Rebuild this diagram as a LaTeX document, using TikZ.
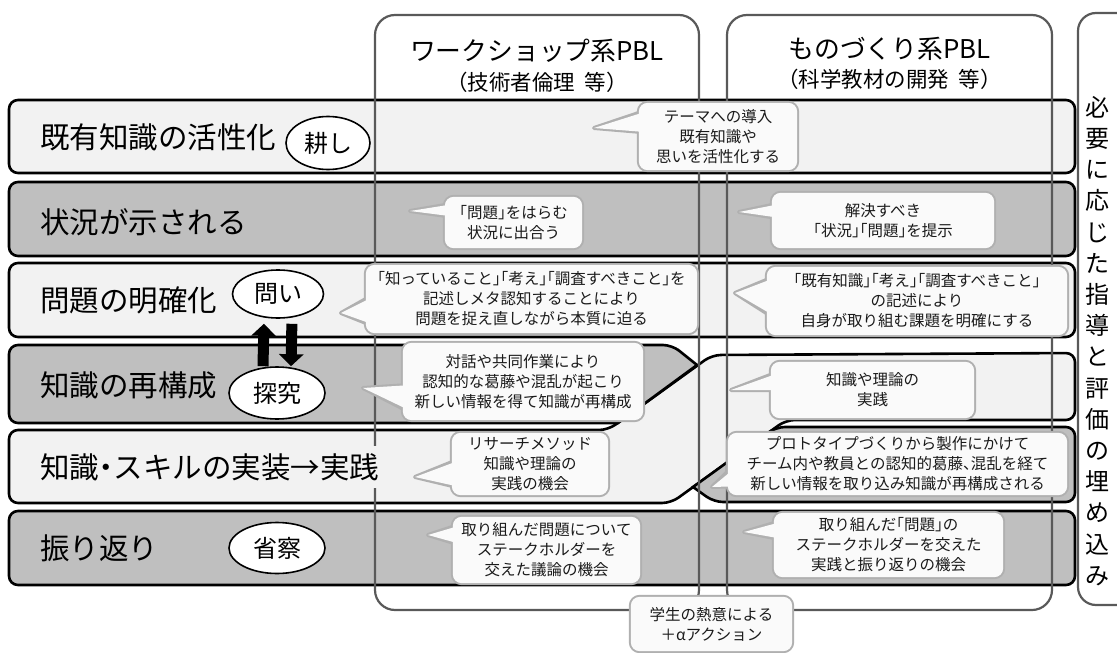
\documentclass[tikz,border=0pt]{standalone}
\usepackage{fontspec}
\setmainfont{Noto Sans CJK JP}
\newfontfamily\calloutfont[RawFeature=+halt]{Noto Sans CJK JP}
\usetikzlibrary{shapes.geometric,arrows.meta,calc}
\pgfdeclarelayer{rowsL}
\pgfdeclarelayer{colsL}
\pgfdeclarelayer{cbL}
\pgfdeclarelayer{cfL}
\pgfsetlayers{rowsL,colsL,cbL,cfL,main}
\definecolor{lightrow}{HTML}{F2F2F2}
\definecolor{darkrow}{HTML}{BFBFBF}
\definecolor{colline}{HTML}{595959}
\definecolor{cbord}{HTML}{B0B0B0}
\definecolor{cfillc}{HTML}{FAFAFA}
\definecolor{txt}{HTML}{1A1A1A}
% name, cx, cy, w, h, tip, f1, f2, text
\newcommand\mycallout[9]{%
  \node[ctext, minimum width=#4pt, minimum height=#5pt] (#1) at (#2,#3) {#9};
  \begin{pgfonlayer}{cbL}
    \draw[cbord, line width=4pt, rounded corners=9pt] (#1.south west) rectangle (#1.north east);
    \draw[cbord, line width=4pt, line join=round] ($(#1.north west)!#7!(#1.south west)$) -- #6 -- ($(#1.north west)!#8!(#1.south west)$);
  \end{pgfonlayer}
  \begin{pgfonlayer}{cfL}
    \fill[cfillc, rounded corners=9pt] (#1.south west) rectangle (#1.north east);
    \fill[cfillc] ($(#1.north west)!#7!(#1.south west)+(3,0)$) -- #6 -- ($(#1.north west)!#8!(#1.south west)+(3,0)$) -- cycle;
  \end{pgfonlayer}
}
\begin{document}
\begin{tikzpicture}[x=1pt,y=-1pt,
  rowbd/.style={draw=black, line width=2.6pt, rounded corners=9pt},
  colbox/.style={draw=colline, line width=2.2pt, rounded corners=20pt},
  rowlabel/.style={anchor=west, font=\fontsize{29.5}{32}\selectfont, inner xsep=3pt, inner ysep=7pt, text=black},
  oval/.style={ellipse, draw=black, line width=1.6pt, fill=white, inner sep=0pt, font=\fontsize{24}{28}\selectfont},
  ctext/.style={align=center, inner sep=0pt, font=\calloutfont\fontsize{15.5}{20}\selectfont, text=txt},
  coltitle/.style={font=\fontsize{25.8}{28}\selectfont},
  colsub/.style={font=\fontsize{21.5}{24}\selectfont},
  blockarrow/.style={line width=11pt, -{Triangle[length=12pt,width=24pt]}},
]
\useasboundingbox (0,0) rectangle (1117,653);

% ---- row bands
\begin{pgfonlayer}{rowsL}
\draw[rowbd, fill=lightrow] (9,100) rectangle (1075,173);
\draw[rowbd, fill=darkrow] (9,182) rectangle (1075,256);
\draw[rowbd, fill=lightrow] (9,263) rectangle (1075,337);
\draw[rowbd, fill=lightrow] (9,503) -- (9,430) -- (608,430) -- (712,355) -- (1075,353) -- (1075,420) -- (786,420) -- (671,503) -- cycle;
\draw[rowbd, fill=darkrow] (697,365) [sharp corners] -- (618,423) [rounded corners=9pt] -- (9,423) -- (9,345) -- (672,345) -- (684.5,355) [sharp corners] -- cycle;
\draw[rowbd, fill=darkrow] (693,487) [rounded corners=9pt] -- (714,502) -- (1075,502) -- (1075,427) -- (776,427) -- (734.5,457) [sharp corners] -- cycle;
\draw[rowbd, fill=darkrow] (9,511) rectangle (1075,585);
\end{pgfonlayer}

% ---- column frames
\begin{pgfonlayer}{colsL}
\draw[colbox] (375,15) rectangle (699,610);
\draw[colbox] (727,15) rectangle (1052,610);
\draw[colbox, rounded corners=18pt] (1078,13) rectangle (1160,605);
\end{pgfonlayer}

% ---- headers
\node[coltitle] (t1) at (537,51) {ワークショップ系PBL};
\node[colsub] (s1) at (537,82) {（技術者倫理\hspace{0.45em}等）};
\node[coltitle] (t2) at (889.5,49) {ものづくり系PBL};
\node[colsub] (s2) at (889.5,79) {（科学教材の開発\hspace{0.45em}等）};

% ---- row labels
\node[rowlabel, fill=lightrow] (l1) at (37,137) {既有知識の活性化};
\node[rowlabel, fill=darkrow] (l2) at (37,222) {状況が示される};
\node[rowlabel, fill=lightrow] (l3) at (37,300) {問題の明確化};
\node[rowlabel, fill=darkrow] (l4) at (37,385) {知識の再構成};
\node[rowlabel, fill=lightrow] (l5) at (37,467) {\calloutfont 知識・スキルの実装→実践};
\node[rowlabel, fill=darkrow] (l6) at (37,548) {振り返り};

% ---- ovals
\node[oval, minimum width=84pt, minimum height=53pt] (kou) at (328,143) {耕し};
\node[oval, minimum width=91pt, minimum height=48pt] (toi) at (278,294) {問い};
\node[oval, minimum width=96pt, minimum height=52pt] (tankyu) at (277,393) {探究};
\node[oval, minimum width=96pt, minimum height=51pt] (shou) at (277,548) {省察};

\draw[blockarrow, shorten >=5pt] ([xshift=-14pt]tankyu.north) -- ([xshift=-14pt]toi.south);
\draw[blockarrow, shorten <=5pt] ([xshift=14pt]toi.south) -- ([xshift=14pt]tankyu.north);

% ---- callouts
\mycallout{c1}{718}{136.5}{158}{67}{(594,128)}{0.15}{0.43}{テーマへの導入\\既有知識や\\思いを活性化する}
\mycallout{c2}{513.5}{222.5}{137}{51}{(410,211)}{0.16}{0.37}{「問題」をはらむ\\状況に出合う}
\mycallout{c3}{531.5}{299}{331}{68}{(341,313)}{0.5}{0.85}{「知っていること」「考え」「調査すべきこと」を\\記述しメタ認知することにより\\問題を捉え直しながら本質に迫る}
\mycallout{c4}{523}{381.5}{240}{77}{(363,388)}{0.55}{0.85}{対話や共同作業により\\認知的な葛藤や混乱が起こり\\新しい情報を得て知識が再構成}
\mycallout{c5}{530}{464}{156}{62}{(415,477)}{0.47}{0.85}{リサーチメソッド\\知識や理論の\\実践の機会}
\mycallout{c6}{546.5}{550}{187}{66}{(428,535)}{0.15}{0.39}{取り組んだ問題について\\ステークホルダーを\\交えた議論の機会}
\mycallout{c7}{883}{220.5}{222}{55}{(739,212)}{0.22}{0.44}{解決すべき\\「状況」「問題」を提示}
\mycallout{c8}{917}{301}{300}{68}{(735,293)}{0.19}{0.68}{「既有知識」「考え」「調査すべきこと」\\の記述により\\自身が取り組む課題を明確にする}
\mycallout{c9}{872.5}{390}{203}{56}{(731,390)}{0.23}{0.5}{知識や理論の\\実践}
\mycallout{c10}{897.5}{464}{339}{62}{(712,487)}{0.62}{0.86}{プロトタイプづくりから製作にかけて\\チーム内や教員との認知的葛藤、混乱を経て\\新しい情報を取り込み知識が再構成される}
\mycallout{c11}{888.5}{545}{229}{64}{(744,532)}{0.16}{0.39}{取り組んだ「問題」の\\ステークホルダーを交えた\\実践と振り返りの機会}

\node[ctext, minimum width=161pt, minimum height=54pt] (c12) at (711.5,624) {学生の熱意による\\＋αアクション};
\begin{pgfonlayer}{cbL}
\draw[cbord, line width=4pt, rounded corners=9pt] (c12.south west) rectangle (c12.north east);
\end{pgfonlayer}
\begin{pgfonlayer}{cfL}
\fill[cfillc, rounded corners=9pt] (c12.south west) rectangle (c12.north east);
\end{pgfonlayer}

% ---- side text
\node[align=center, inner sep=0pt, font=\fontsize{24}{31.2}\selectfont] (side) at (1097,341) {必\\要\\に\\応\\じ\\た\\指\\導\\と\\評\\価\\の\\埋\\め\\込\\み};
\end{tikzpicture}
\end{document}
